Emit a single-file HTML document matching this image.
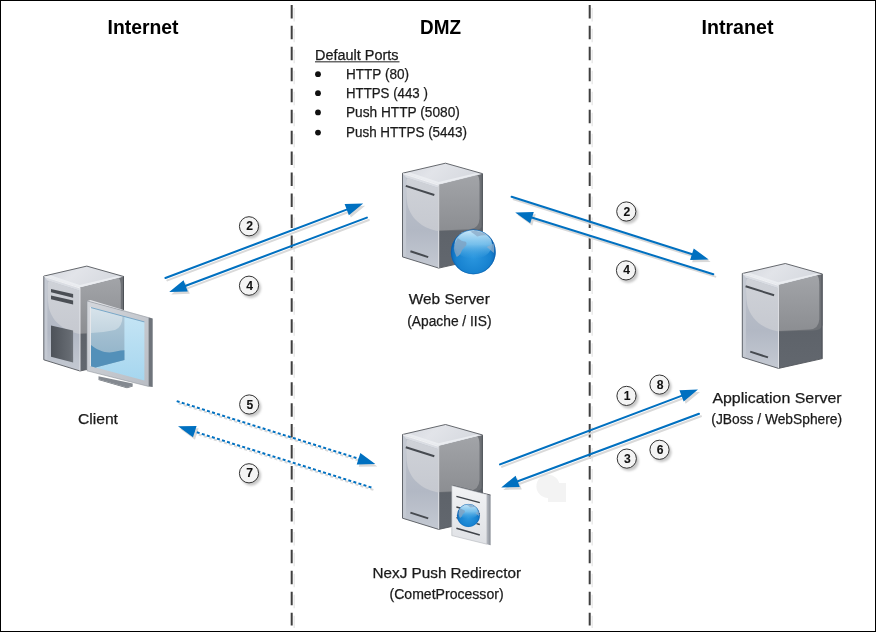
<!DOCTYPE html>
<html><head><meta charset="utf-8">
<style>
html,body{margin:0;padding:0;background:#fff;}
body{width:876px;height:632px;overflow:hidden;}
svg{display:block;}
text{font-family:"Liberation Sans",sans-serif;fill:#1a1a1a;stroke:#1a1a1a;stroke-width:0.25px;}
.t{font-weight:bold;font-size:19.5px;fill:#000;stroke:none;}
.l{font-size:15px;}
.s{font-size:14px;}
.n{font-weight:bold;font-size:13.5px;fill:#111;text-anchor:middle;stroke-width:0.1px;}
svg{will-change:transform;}
</style></head><body>
<svg width="876" height="632" viewBox="0 0 876 632">
<defs>
  <linearGradient id="gTop" x1="0" y1="0" x2="1" y2="0.3">
    <stop offset="0" stop-color="#d3d6dd"/><stop offset="0.45" stop-color="#e2e4e9"/><stop offset="1" stop-color="#d6d9df"/>
  </linearGradient>
  <linearGradient id="gFront" x1="0" y1="0" x2="0" y2="1">
    <stop offset="0" stop-color="#bdc2cb"/><stop offset="0.6" stop-color="#b2b8c4"/><stop offset="1" stop-color="#c4c9d2"/>
  </linearGradient>
  <linearGradient id="gFrontHi" x1="0" y1="0" x2="0" y2="1">
    <stop offset="0" stop-color="#cfd2d8"/><stop offset="1" stop-color="#c6c9d0"/>
  </linearGradient>
  <linearGradient id="gSide" x1="0" y1="0" x2="0" y2="1">
    <stop offset="0" stop-color="#a2a4a8"/><stop offset="1" stop-color="#8c8e92"/>
  </linearGradient>
  <linearGradient id="gSideDark" x1="0" y1="0" x2="0" y2="1">
    <stop offset="0" stop-color="#585d64"/><stop offset="1" stop-color="#62676e"/>
  </linearGradient>
  <radialGradient id="gGlobe" cx="0.5" cy="0.6" r="0.55">
    <stop offset="0" stop-color="#2b97df"/><stop offset="0.7" stop-color="#1782d0"/><stop offset="1" stop-color="#0a5eae"/>
  </radialGradient>
  <linearGradient id="gGlobeHi" x1="0" y1="0" x2="0" y2="1">
    <stop offset="0" stop-color="#cdebfb" stop-opacity="1"/><stop offset="0.5" stop-color="#8ccdf1" stop-opacity="0.8"/><stop offset="1" stop-color="#4aa9e4" stop-opacity="0"/>
  </linearGradient>
  <linearGradient id="gScrA" x1="0" y1="0" x2="0" y2="1">
    <stop offset="0" stop-color="#d7e3eb"/><stop offset="1" stop-color="#c2d4df"/>
  </linearGradient>
  <linearGradient id="gScrB" x1="0" y1="0" x2="0" y2="1">
    <stop offset="0" stop-color="#b4cad8"/><stop offset="1" stop-color="#8cb0c7"/>
  </linearGradient>
  <linearGradient id="gScrC" x1="0" y1="0" x2="0" y2="1">
    <stop offset="0" stop-color="#c8e6f5"/><stop offset="1" stop-color="#a6d6ef"/>
  </linearGradient>
  <linearGradient id="gFrame" x1="0" y1="0" x2="1" y2="1">
    <stop offset="0" stop-color="#d4d7dc"/><stop offset="1" stop-color="#b9bdc4"/>
  </linearGradient>
  <linearGradient id="gDark" x1="0" y1="0" x2="1" y2="0">
    <stop offset="0" stop-color="#4d5259"/><stop offset="0.85" stop-color="#666b72"/><stop offset="1" stop-color="#70757c"/>
  </linearGradient>
  <linearGradient id="gDocSide" x1="0" y1="0" x2="1" y2="0">
    <stop offset="0" stop-color="#b9bdc5"/><stop offset="1" stop-color="#858a92"/>
  </linearGradient>
  <linearGradient id="gDoc" x1="0" y1="0" x2="0" y2="1">
    <stop offset="0" stop-color="#f2f3f5"/><stop offset="1" stop-color="#dfe1e5"/>
  </linearGradient>
  <filter id="shb" x="-5%" y="-5%" width="110%" height="110%"><feGaussianBlur stdDeviation="0.6"/></filter>
  <filter id="sh" x="-30%" y="-30%" width="160%" height="160%"><feGaussianBlur stdDeviation="0.9"/></filter>
  <g id="body">
    <polygon points="0,10.5 36.2,22 36.2,105.4 0,94.2" fill="url(#gFront)"/>
    <polygon points="0,10.5 3.6,11.6 3.6,95.3 0,94.2" fill="#c4c9d2"/>
    <polygon points="0,10.5 36.2,22 36.2,25.2 3.6,14.8" fill="#dadde3"/>
    <path d="M5.5,15.4 L36.2,25.2 L36.2,68.4 C22,66.5 8.5,57 5,42 Q3.8,36 3.8,28 L3.8,19 Q3.8,15.8 5.5,15.4 Z" fill="url(#gFrontHi)"/>
    <polygon points="36.2,22 80.2,11 80.2,95.6 36.2,105.4" fill="url(#gSideDark)"/>
    <path d="M36.2,22 L80.2,11 L80.2,62 Q79.5,67 71,67.5 L36.2,68.4 Z" fill="#6e7176"/>
    <path d="M36.2,22 L74.5,12.4 Q77,13 77,22 L77,56 Q76.6,66 67,66.6 L36.2,67.9 Z" fill="url(#gSide)"/>
    <polygon points="79.3,11.2 80.2,11 80.2,95.6 79.3,95.8" fill="#4a4e54"/>
    <polygon points="0,10.5 43,0.5 80.2,11 36.2,22" fill="url(#gTop)"/>
    <polygon points="1.5,10.6 36.2,21.6 77.5,11.3 74,10.4 36,19.3 6,9.4" fill="#eceef2" opacity="0.85"/>
    <path d="M80.2,11 L43,0.5 L0,10.5 L0,94.2 L36.2,105.4 L80.2,95.6" fill="none" stroke="#55585d" stroke-width="0.9" stroke-linejoin="round"/>
    <line x1="36.2" y1="22.2" x2="36.2" y2="105.2" stroke="#e6e8ec" stroke-width="0.9"/>
    <line x1="0.6" y1="10.9" x2="36.2" y2="22.4" stroke="#f2f3f5" stroke-width="0.9"/>
  </g>
  <g id="srv">
    <use href="#body"/>
    <path d="M3.3,23.2 L31.8,32.3" stroke="#464a50" stroke-width="2.0"/>
    <path d="M7.9,88.6 L25.7,94.4" stroke="#464a50" stroke-width="2.0"/>
  </g>
  <g id="circ">
    <circle cx="2" cy="2.4" r="10.1" fill="#c8c8c8" filter="url(#sh)"/>
    <circle cx="0" cy="0" r="9.6" fill="#f4f4f4" stroke="#333" stroke-width="1.0"/>
  </g>
  <g id="globe">
    <circle cx="0" cy="0" r="22.4" fill="url(#gGlobe)"/>
    <ellipse cx="0" cy="-7.5" rx="18.8" ry="14.5" fill="url(#gGlobeHi)"/>
    <path d="M-15.5,-14 Q-11,-10 -8,-10.5 Q-5,-8 -9,-4.5 Q-11,-3 -12.5,1 Q-14,4 -16.5,5 Q-19,1 -19.5,-4 Q-18.5,-10 -15.5,-14 Z" fill="#7fa3c4" opacity="0.85"/>
    <path d="M-3,-20.5 Q1,-18 4,-15.5 Q9,-17 14,-16.5 Q9,-20 2,-21.5 Z" fill="#8fafcb" opacity="0.85"/>
    <path d="M13.5,-5 Q17,-6.5 20.5,-9 Q21.5,-4 20.5,1 Q17,-2 13.5,-5 Z" fill="#8fafcb" opacity="0.75"/>
    <circle cx="0" cy="0" r="22" fill="none" stroke="#0b5aa6" stroke-width="0.9" opacity="0.55"/>
  </g>
</defs>

<rect x="0.5" y="0.5" width="875" height="631" fill="#fff" stroke="#000" stroke-width="1"/>
<g stroke-dasharray="13.5 7.46" stroke-width="2">
  <line x1="294.2" y1="7.9" x2="294.2" y2="628" stroke="#e8e8e8" stroke-width="1.4"/>
  <line x1="592.2" y1="7.9" x2="592.2" y2="628" stroke="#e8e8e8" stroke-width="1.4"/>
  <line x1="291.7" y1="4.9" x2="291.7" y2="625.5" stroke="#3f3f3f"/>
  <line x1="589.7" y1="4.9" x2="589.7" y2="625.5" stroke="#3f3f3f"/>
</g>
<text class="t" x="107.5" y="33.5" textLength="71" lengthAdjust="spacingAndGlyphs">Internet</text>
<text class="t" x="420" y="33.5" textLength="41" lengthAdjust="spacingAndGlyphs">DMZ</text>
<text class="t" x="701.5" y="33.5" textLength="72" lengthAdjust="spacingAndGlyphs">Intranet</text>
<text class="s" x="315" y="59.6" textLength="83.5" lengthAdjust="spacingAndGlyphs">Default Ports</text>
<rect x="315" y="61.2" width="84.5" height="1.2" fill="#444"/>
<g fill="#111">
<circle cx="318" cy="74.2" r="2.9"/><circle cx="318" cy="93.2" r="2.9"/><circle cx="318" cy="112.4" r="2.9"/><circle cx="318" cy="132.6" r="2.9"/>
</g>
<text class="s" x="346" y="78.8" textLength="63" lengthAdjust="spacingAndGlyphs">HTTP (80)</text>
<text class="s" x="346" y="98.3" textLength="81.8" lengthAdjust="spacingAndGlyphs">HTTPS (443 )</text>
<text class="s" x="346" y="116.9" textLength="113.8" lengthAdjust="spacingAndGlyphs">Push HTTP (5080)</text>
<text class="s" x="346" y="137.4" textLength="121" lengthAdjust="spacingAndGlyphs">Push HTTPS (5443)</text>
<text class="l" x="77.9" y="423.8" textLength="40.1" lengthAdjust="spacingAndGlyphs">Client</text>
<text class="l" x="408.8" y="304.1" textLength="81" lengthAdjust="spacingAndGlyphs">Web Server</text>
<text class="s" x="407.2" y="325.5" textLength="84.3" lengthAdjust="spacingAndGlyphs">(Apache / IIS)</text>
<text class="l" x="712.4" y="402.8" textLength="129.2" lengthAdjust="spacingAndGlyphs">Application Server</text>
<text class="s" x="711.3" y="424.2" textLength="130.8" lengthAdjust="spacingAndGlyphs">(JBoss / WebSphere)</text>
<text class="l" x="372.6" y="577.7" textLength="148.4" lengthAdjust="spacingAndGlyphs">NexJ Push Redirector</text>
<text class="s" x="389.5" y="598.6" textLength="114.1" lengthAdjust="spacingAndGlyphs">(CometProcessor)</text>

<!-- client PC -->
<g transform="translate(43.8,265.6)">
  <use href="#body"/>
  <polygon points="7.2,23.3 29.3,28.5 29.3,32.1 7.2,26.6" fill="#4b4f55"/>
  <polygon points="7.2,30 29.3,35 29.3,38.8 7.2,33.6" fill="#4b4f55"/>
  <polygon points="7.2,59.9 29.3,64.9 29.3,96.9 7.2,91.2" fill="url(#gDark)"/>
</g>
<!-- monitor -->
<g>
  <polygon points="87,300.9 90.5,300.1 152.7,318.8 148.5,317.6" fill="#e2e4e8"/>
  <polygon points="148.5,317.2 152.7,318.6 152.7,387 148.5,386.4" fill="#6f747b"/>
  <polygon points="98.5,376.3 132.7,383.5 132.7,385.8 127,387.6 98.5,379.3" fill="#848990"/>
  <polygon points="98.5,379.3 127,387.6 132.7,385.8 132.7,386.5 127,388.3 98.5,380" fill="#6d7279"/>
  <polygon points="87,300.9 148.5,317.6 148.5,386.4 87,370.8" fill="url(#gFrame)" stroke="#92979e" stroke-width="0.6"/>
  <line x1="90.4" y1="307" x2="90.4" y2="366" stroke="#eef0f3" stroke-width="0.8"/>
  <polygon points="91,307.6 144.4,321.9 144.4,380.4 91,366.2" fill="url(#gScrC)"/>
  <polygon points="91,307.6 124.4,316.5 124.4,360 95.5,367.4 91,366.2" fill="url(#gScrB)"/>
  <path d="M91,307.6 L122.5,316 Q122.5,327 115,330 Q104,332.5 91,333 Z" fill="url(#gScrA)"/>
  <path d="M91,344.9 C96,349 103,352.4 109.5,352.4 C115,352.2 119,350.2 124.4,350.2 L124.4,360 L95.5,367.4 L91,366.2 Z" fill="#5390b9"/>
  <line x1="91" y1="307.6" x2="144.4" y2="321.9" stroke="#6fa2c4" stroke-width="0.9"/>
</g>
<!-- servers -->
<use href="#srv" transform="translate(402.5,162.7)"/>
<use href="#srv" transform="translate(742.3,263)"/>
<use href="#srv" transform="translate(402.5,424)"/>
<use href="#globe" transform="translate(473.3,251.9)"/>

<!-- document on push redirector -->
<g>
  <polygon points="486.8,494.4 490.6,495.3 490.6,545.2 486.8,544.2" fill="url(#gDocSide)"/>
  <path d="M451.8,485.3 L486.8,494.1 L490.6,495" fill="none" stroke="#50545a" stroke-width="0.9"/>
  <polygon points="451.8,485.6 486.8,494.4 486.8,544.2 451.8,535.6" fill="url(#gDoc)" stroke="#a7abb1" stroke-width="0.5"/>
  <path d="M456.4,496.4 L479.8,502.6 M456.4,528.3 L479.8,535" stroke="#3f4349" stroke-width="1.5"/>
  <path d="M456.4,507 L460,508 M476.5,513 L479.8,513.9 M456.4,517.6 L460,518.6 M476.5,523.6 L479.8,524.5" stroke="#3f4349" stroke-width="1.3"/>
  <use href="#globe" transform="translate(468.4,515.5) scale(0.51)"/>
</g>
<!-- faint blob -->
<g fill="#f3f3f3">
  <circle cx="548" cy="486.3" r="11.6"/>
  <rect x="548" y="483" width="18" height="19"/>
</g>

<g transform="translate(2.0,2.4)" filter="url(#shb)">
<path d="M165.40,278.00 L348.60,208.91 M366.90,217.60 L183.80,286.51 M511.60,196.80 L693.83,254.77 M713.30,274.20 L530.09,217.05 M500.00,464.40 L683.41,395.11 M699.00,413.80 L515.82,482.05" fill="none" stroke="#d9d9d9" stroke-width="2" stroke-linecap="round"/>
<path d="M176.70,401.10 L360.43,459.29 M371.40,487.50 L192.87,431.01" fill="none" stroke="#d9d9d9" stroke-width="2" stroke-dasharray="3 2.3"/>
<path d="M363.20,203.40 L348.85,215.22 L344.61,204.00 Z M169.20,292.00 L183.56,280.19 L187.79,291.42 Z M708.70,259.50 L690.11,259.88 L693.75,248.45 Z M515.20,212.40 L533.79,211.91 L530.21,223.37 Z M698.00,389.60 L683.66,401.43 L679.42,390.21 Z M501.20,487.50 L515.60,475.73 L519.79,486.98 Z M375.30,464.00 L356.71,464.41 L360.33,452.97 Z M178.00,426.30 L196.59,425.89 L192.97,437.33 Z" fill="#d9d9d9"/>
</g>
<g>
<path d="M165.40,278.00 L348.60,208.91 M366.90,217.60 L183.80,286.51 M511.60,196.80 L693.83,254.77 M713.30,274.20 L530.09,217.05 M500.00,464.40 L683.41,395.11 M699.00,413.80 L515.82,482.05" fill="none" stroke="#0070c0" stroke-width="2" stroke-linecap="round"/>
<path d="M176.70,401.10 L360.43,459.29 M371.40,487.50 L192.87,431.01" fill="none" stroke="#0070c0" stroke-width="2" stroke-dasharray="3 2.3"/>
<path d="M363.20,203.40 L348.85,215.22 L344.61,204.00 Z M169.20,292.00 L183.56,280.19 L187.79,291.42 Z M708.70,259.50 L690.11,259.88 L693.75,248.45 Z M515.20,212.40 L533.79,211.91 L530.21,223.37 Z M698.00,389.60 L683.66,401.43 L679.42,390.21 Z M501.20,487.50 L515.60,475.73 L519.79,486.98 Z M375.30,464.00 L356.71,464.41 L360.33,452.97 Z M178.00,426.30 L196.59,425.89 L192.97,437.33 Z" fill="#0070c0"/>
</g>
<use href="#circ" x="249.0" y="226.3"/><text class="n" transform="translate(249.6,230.3) scale(0.9,1)">2</text>
<use href="#circ" x="249.0" y="285.7"/><text class="n" transform="translate(249.6,289.7) scale(0.9,1)">4</text>
<use href="#circ" x="249.2" y="404.5"/><text class="n" transform="translate(249.8,408.5) scale(0.9,1)">5</text>
<use href="#circ" x="249.0" y="473.3"/><text class="n" transform="translate(249.6,477.3) scale(0.9,1)">7</text>
<use href="#circ" x="626.3" y="211.5"/><text class="n" transform="translate(626.9,215.5) scale(0.9,1)">2</text>
<use href="#circ" x="626.0" y="270.4"/><text class="n" transform="translate(626.6,274.4) scale(0.9,1)">4</text>
<use href="#circ" x="626.5" y="395.9"/><text class="n" transform="translate(627.1,399.9) scale(0.9,1)">1</text>
<use href="#circ" x="659.5" y="384.6"/><text class="n" transform="translate(660.1,388.6) scale(0.9,1)">8</text>
<use href="#circ" x="626.8" y="458.6"/><text class="n" transform="translate(627.4,462.6) scale(0.9,1)">3</text>
<use href="#circ" x="659.5" y="449.8"/><text class="n" transform="translate(660.1,453.8) scale(0.9,1)">6</text>
</svg>
</body></html>
